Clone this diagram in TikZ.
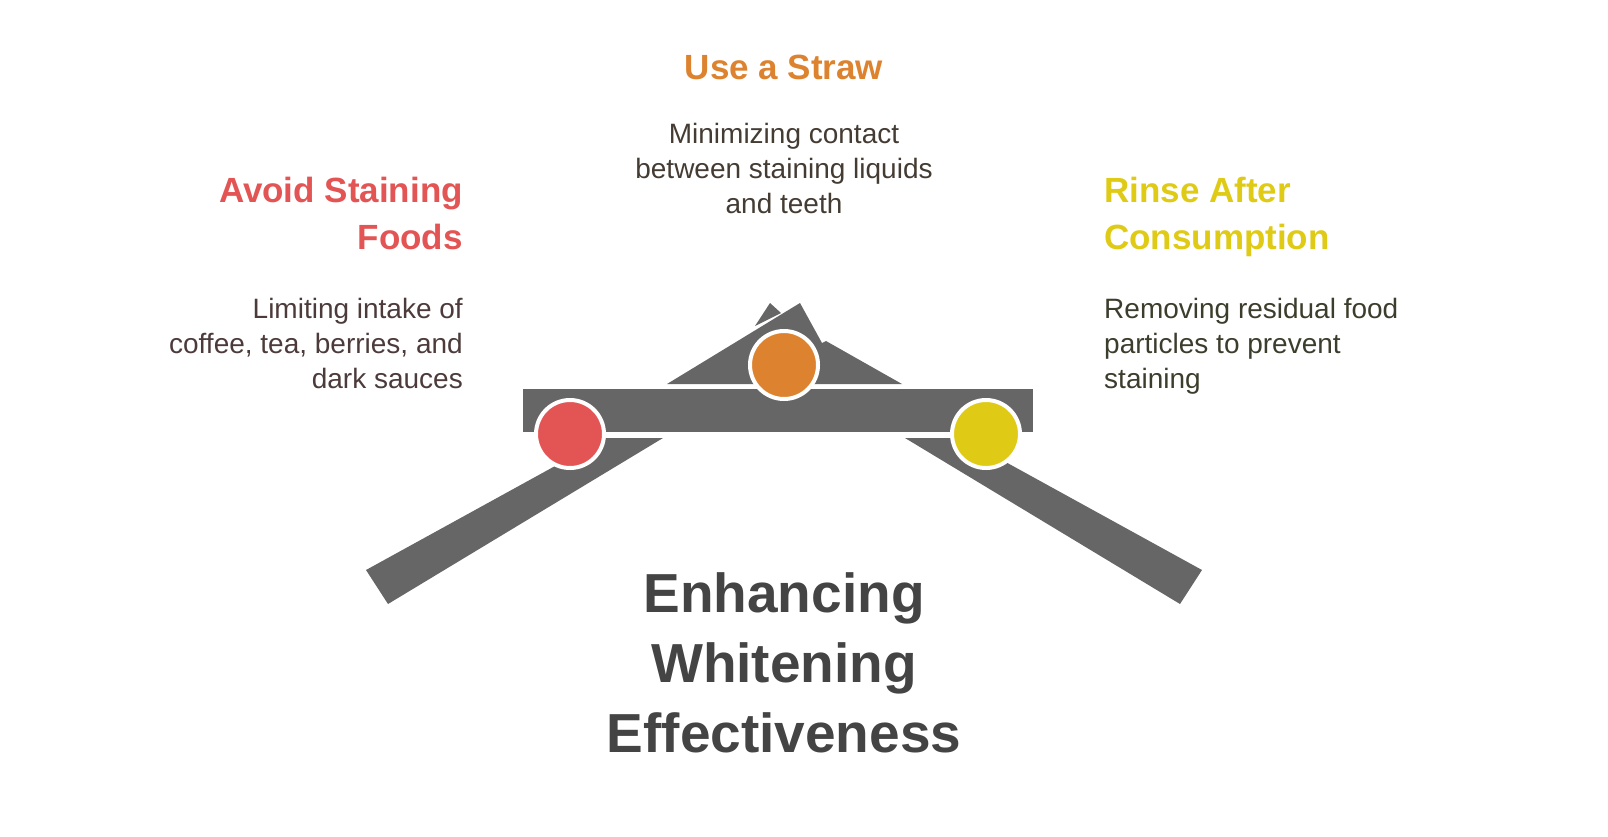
\documentclass[tikz,border=0pt]{standalone}
\usepackage{fontspec}
\setmainfont{Liberation Sans}
\begin{document}
\begin{tikzpicture}[x=1pt,y=-1pt,
  bar/.style={fill=gray66,draw=none},
  dot/.style={circle,minimum size=68pt,draw=white,line width=4pt,inner sep=0pt},
  head/.style={font=\fontsize{35}{47}\selectfont\bfseries,inner sep=0pt},
  body/.style={font=\fontsize{28}{35}\selectfont,inner sep=0pt}]
\definecolor{gray66}{HTML}{666666}
\definecolor{cred}{HTML}{E35454}
\definecolor{corange}{HTML}{DD832F}
\definecolor{cyellow}{HTML}{DFCB16}
\definecolor{tleft}{HTML}{4D3B3B}
\definecolor{tright}{HTML}{3D3D2D}
\definecolor{tmid}{HTML}{443B33}
\definecolor{ttitle}{HTML}{444444}
\useasboundingbox (0,0) rectangle (1608,836);
% shapes
\fill[bar] (523,389) rectangle (1033,432);
\fill[bar] (366,570) -- (388,604) -- (663,438) -- (606,438) -- cycle;
\fill[bar] (1202,570) -- (1180,604) -- (905,438) -- (962,438) -- cycle;
\fill[bar] (667,384) -- (800,303) -- (822,343) -- (826,341) -- (902,384) -- cycle;
\fill[bar] (755,326) -- (770,303) -- (781,313) -- cycle;
\node[dot,fill=cred] (r) at (570,434) {};
\node[dot,fill=corange] (o) at (784,365) {};
\node[dot,fill=cyellow] (y) at (986,434) {};
% texts
\node[head,text=cred,align=right,anchor=north east] (h1) at (463,177) {Avoid Staining\\Foods};
\node[body,text=tleft,align=right,anchor=north east] (b1) at (463,298) {Limiting intake of\\coffee, tea, berries, and\\dark sauces};
\node[head,text=corange,anchor=center] (h2) at (784,67) {Use a Straw};
\node[body,text=tmid,align=center,anchor=north] (b2) at (784,123) {Minimizing contact\\between staining liquids\\and teeth};
\node[head,text=cyellow,align=left,anchor=north west] (h3) at (1104,177) {Rinse After\\Consumption};
\node[body,text=tright,align=left,anchor=north west] (b3) at (1104,298) {Removing residual food\\particles to prevent\\staining};
\node[font=\fontsize{55}{70}\selectfont\bfseries,text=ttitle,align=center,inner sep=0pt] (t) at (784,663) {Enhancing\\Whitening\\Effectiveness};
\end{tikzpicture}
\end{document}
